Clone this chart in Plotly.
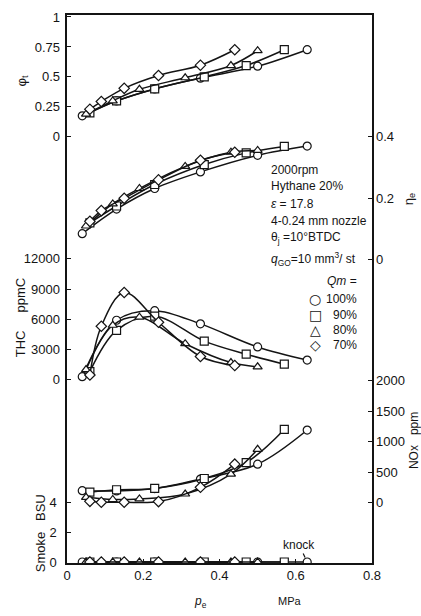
import plotly.graph_objects as go

# ---------------- data ----------------
qm_labels = ["100%", "90%", "80%", "70%"]
symbols = ["circle", "square", "triangle-up", "diamond"]
legend_glyphs = ["○", "□", "△", "◇"]

pe_100 = [0.04, 0.13, 0.23, 0.35, 0.50, 0.63]
pe_90 = [0.06, 0.13, 0.23, 0.36, 0.47, 0.57]
pe_80 = [0.05, 0.12, 0.19, 0.31, 0.43, 0.50]
pe_70 = [0.06, 0.09, 0.15, 0.24, 0.35, 0.44]

phit_100 = [0.176, 0.30, 0.40, 0.49, 0.59, 0.727]
phit_90 = [0.20, 0.30, 0.40, 0.50, 0.595, 0.727]
phit_80 = [0.19, 0.30, 0.397, 0.493, 0.595, 0.719]
phit_70 = [0.231, 0.295, 0.405, 0.512, 0.598, 0.727]

etae_100 = [0.085, 0.165, 0.232, 0.286, 0.340, 0.370]
etae_90 = [0.12, 0.175, 0.245, 0.31, 0.348, 0.369]
etae_80 = [0.11, 0.182, 0.232, 0.304, 0.350, 0.356]
etae_70 = [0.125, 0.160, 0.200, 0.260, 0.324, 0.350]

thc_100 = [300, 5900, 6850, 5540, 3250, 1950]
thc_90 = [800, 4900, 6300, 3830, 2530, 1540]
thc_80 = [1000, 5400, 6200, 3570, 1700, 1280]
thc_70 = [460, 5300, 8650, 5700, 2300, 1400]

nox_100 = [195, 190, 230, 385, 630, 1190]
nox_90 = [170, 210, 232, 395, 655, 1200]
nox_80 = [86, 50, 60, 140, 466, 873]
nox_70 = [20, 5, 5, 16, 250, 630]

smoke_100 = [0, 0, 0, 0, 0, 0]
smoke_90 = [0, 0, 0, 0, 0, 0]
smoke_80 = [0, 0, 0, 0, 0, 0]
smoke_70 = [0, 0, 0, 0, 0, 0]

x_ticks = [0, 0.2, 0.4, 0.6, 0.8]
x_ticktext = ["0", "0.2", "0.4", "0.6", "0.8"]
phit_ticks = [0, 0.25, 0.5, 0.75, 1]
phit_ticktext = ["0", "0.25", "0.5", "0.75", "1"]
etae_ticks = [0, 0.2, 0.4]
etae_ticktext = ["0", "0.2", "0.4"]
thc_ticks = [0, 3000, 6000, 9000, 12000]
thc_ticktext = ["0", "3000", "6000", "9000", "12000"]
nox_ticks = [0, 500, 1000, 1500, 2000]
nox_ticktext = ["0", "500", "1000", "1500", "2000"]
smoke_ticks = [0, 2, 4]
smoke_ticktext = ["0", "2", "4"]

pe_all = [pe_100, pe_90, pe_80, pe_70]
panels = [
    ("y3", [phit_100, phit_90, phit_80, phit_70]),
    ("y4", [etae_100, etae_90, etae_80, etae_70]),
    ("y2", [thc_100, thc_90, thc_80, thc_70]),
    ("y5", [nox_100, nox_90, nox_80, nox_70]),
    ("y", [smoke_100, smoke_90, smoke_80, smoke_70]),
]

# ---------------- layout geometry ----------------
W, H = 421, 616
L, R, T, B = 67, 372, 10, 563  # plot box in pixels


def px(x):
    return (x - L) / (R - L)


def py(y):
    return (B - y) / (B - T)


def yrange(v0, p0, v1, p1):
    # value v0 at pixel p0, v1 at pixel p1 -> axis range covering plot box
    s = (p0 - p1) / (v1 - v0)  # pixels per unit
    lo = v0 - (B - p0) / s
    hi = v0 + (p0 - T) / s
    return [lo, hi]


INK = "#141414"
FONT = "Liberation Sans, Arial, sans-serif"
fig = go.Figure()

for axis, vals in panels:
    for i in range(4):
        fig.add_trace(go.Scatter(
            x=pe_all[i], y=vals[i], yaxis=axis, mode="lines+markers",
            line=dict(color=INK, width=1.5, shape="spline", smoothing=1.0),
            marker=dict(symbol=symbols[i], size=8,
                        color="white", line=dict(color=INK, width=1.2)),
            showlegend=False, hoverinfo="skip",
        ))

tickfont = dict(family=FONT, size=13, color=INK)
common = dict(ticks="inside", ticklen=4, tickwidth=1.2, tickcolor=INK,
              showgrid=False, zeroline=False, tickfont=tickfont)
left = dict(ticklabelstandoff=6, **common)
right = dict(ticklabelstandoff=3, **common)

fig.update_layout(
    width=W, height=H,
    margin=dict(l=L, r=W - R, t=T, b=H - B),
    paper_bgcolor="white", plot_bgcolor="white",
    font=dict(family=FONT, size=12, color=INK),
    showlegend=False,
    xaxis=dict(range=[0, 0.8], tickvals=x_ticks, ticktext=x_ticktext,
               showline=True, mirror=True, linecolor=INK, linewidth=1.5,
               **common),
    yaxis=dict(range=yrange(0, 562, 4, 502), tickvals=smoke_ticks,
               ticktext=smoke_ticktext,
               showline=True, mirror=True, linecolor=INK, linewidth=1.5,
               **left),
    yaxis2=dict(range=yrange(0, 378, 12000, 256), tickvals=thc_ticks,
                ticktext=thc_ticktext,
                overlaying="y", side="left", showline=False, **left),
    yaxis3=dict(range=yrange(0, 133, 1, 12), tickvals=phit_ticks,
                ticktext=phit_ticktext,
                overlaying="y", side="left", showline=False, **left),
    yaxis4=dict(range=yrange(0, 257, 0.4, 133), tickvals=etae_ticks,
                ticktext=etae_ticktext,
                overlaying="y", side="right", showline=False, **right),
    yaxis5=dict(range=yrange(0, 502, 2000, 379), tickvals=nox_ticks,
                ticktext=nox_ticktext,
                overlaying="y", side="right", showline=False, **right),
)

ann = []


def text(x, y, s, size=12, angle=0, xanchor="left"):
    ann.append(dict(x=px(x), y=py(y), xref="paper", yref="paper", text=s,
                    showarrow=False, xanchor=xanchor, yanchor="middle",
                    textangle=angle, font=dict(size=size, color=INK)))


# axis titles
text(22, 77, "φ<sub>t</sub>", size=13, angle=-90, xanchor="center")
text(20, 316, "THC     ppmC", size=13, angle=-90, xanchor="center")
text(40, 533, "Smoke   BSU", size=13, angle=-90, xanchor="center")
text(409, 196, "η<sub>e</sub>", size=13, angle=-90, xanchor="center")
text(414, 440, "NOx   ppm", size=12, angle=-90, xanchor="center")
text(200, 602, "<i>p</i><sub>e</sub>", size=12, xanchor="center")
text(290, 601, "MPa", size=11, xanchor="center")

# condition block
text(269, 166, "2000rpm")
text(269, 183, "Hythane 20%")
text(269, 201, "<i>ε</i> = 17.8")
text(269, 218, "4-0.24 mm nozzle")
text(269, 235, "θ<sub>j</sub> =10°BTDC")
text(269, 256, "<i>q</i><sub>GO</sub>=10 mm<sup>3</sup>/ st")
text(325, 278, "<i>Qm</i> =")

# knock pointer to the last 100% point of the smoke row
ann.append(dict(x=pe_100[-1], y=smoke_100[-1], xref="x", yref="y",
                text="knock", showarrow=True, arrowhead=0, arrowwidth=1.2,
                arrowcolor=INK, ax=-8, ay=-17, standoff=5,
                font=dict(size=12, color=INK)))

# legend (Qm)
leg_y = [297, 313, 328, 343]
for i in range(4):
    ann.append(dict(x=px(315), y=py(leg_y[i]), xref="paper", yref="paper",
                    text=legend_glyphs[i], showarrow=False, xanchor="center",
                    yanchor="middle",
                    font=dict(family="DejaVu Sans", size=14, color=INK)))
    text(359, leg_y[i], qm_labels[i], size=12, xanchor="right")

fig.update_layout(annotations=ann)
fig.write_html("out.html", config={"displayModeBar": False},
               post_script="document.body.style.margin='0px';")
